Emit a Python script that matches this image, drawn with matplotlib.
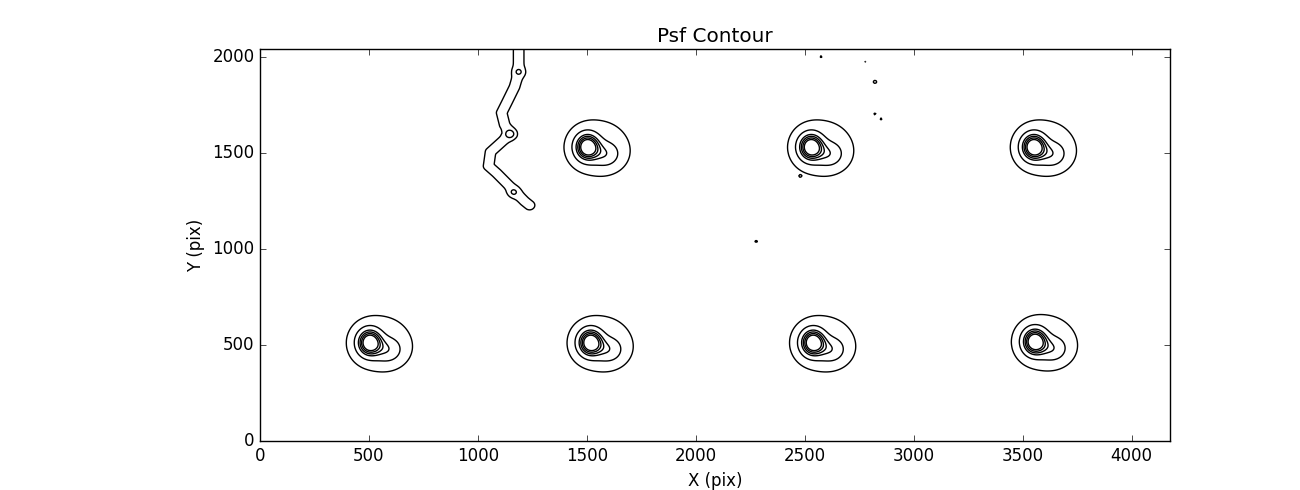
import numpy as np
import matplotlib
matplotlib.use('Agg')
import matplotlib.pyplot as plt

plt.style.use('classic')

### detector size (pix)
nx_pix = 4176
ny_pix = 2040

### psf centres
star_x = [1503, 2529, 3551, 504, 1517, 2538, 3556]
star_y = [1530, 1530, 1530, 512, 512, 512, 517]
star_amp = [1.0, 1.0, 1.0, 1.0, 1.0, 1.0, 1.0]

### the faint streak (centre line) near x~1150
streak_x = [1187, 1187, 1168, 1132, 1109, 1123, 1150, 1058, 1049, 1086, 1150, 1214, 1237]
streak_y = [2080, 1916, 1843, 1760, 1708, 1645, 1598, 1504, 1431, 1394, 1321, 1248, 1227]
knot_x = [1187, 1146, 1164]
knot_y = [1921, 1598, 1295]
knot_amp = [0.15, 0.26, 0.15]

### isolated hot pixels
dot_x = [2575, 2777, 2822, 2822, 2850, 2479, 2277]
dot_y = [2000, 1974, 1869, 1702, 1676, 1379, 1039]
dot_amp = [0.06, 0.045, 0.12, 0.06, 0.06, 0.045, 0.07]

levels = [0.04, 0.16, 0.36, 0.48, 0.6, 0.72]

### build the image on a grid
xx = np.arange(0, nx_pix + 1, 6)
yy = np.arange(0, ny_pix + 1, 6)
X, Y = np.meshgrid(xx, yy)
img = np.zeros_like(X, dtype=float)

for sx, sy, a in zip(star_x, star_y, star_amp):
    dx = X - sx
    dy = Y - sy
    img += a * np.exp(-(dx**2 / (2 * 34**2) + dy**2 / (2 * 42**2)))           # core
    img += 0.28 * a * np.exp(-((dx - 80)**2 + (dy + 35)**2) / (2 * 42**2))    # tail
    rw = np.sqrt((dx - 45)**2 + (dy + 3)**2) / 175
    img += 0.06 * a * np.exp(-rw**4)                                           # flat wing

### streak = gaussian ridge along a polyline
d2 = np.full(X.shape, np.inf)
for i in range(len(streak_x) - 1):
    x0, y0, x1, y1 = streak_x[i], streak_y[i], streak_x[i + 1], streak_y[i + 1]
    vx, vy = x1 - x0, y1 - y0
    t = ((X - x0) * vx + (Y - y0) * vy) / (vx**2 + vy**2)
    t = np.clip(t, 0, 1)
    d2 = np.minimum(d2, (X - x0 - t * vx)**2 + (Y - y0 - t * vy)**2)
img += 0.06 * np.exp(-d2 / (2 * 27**2))

for kx, ky, a in zip(knot_x, knot_y, knot_amp):
    img += a * np.exp(-((X - kx)**2 + (Y - ky)**2) / (2 * 14**2))

for px, py, a in zip(dot_x, dot_y, dot_amp):
    img += a * np.exp(-((X - px)**2 + (Y - py)**2) / (2 * 5**2))

fig = plt.figure(figsize=(13, 4.9), dpi=100, facecolor='white')
ax = fig.add_axes([0.2, 0.1, 0.7, 0.8])
ax.contour(X, Y, img, levels=levels, colors='k', linewidths=1.0)

ax.set_xlim(0, nx_pix)
ax.set_ylim(0, ny_pix)
ax.set_title('Psf Contour')
ax.set_xlabel('X (pix)')
ax.set_ylabel('Y (pix)')

fig.savefig('out.png', dpi=100, facecolor='white')
